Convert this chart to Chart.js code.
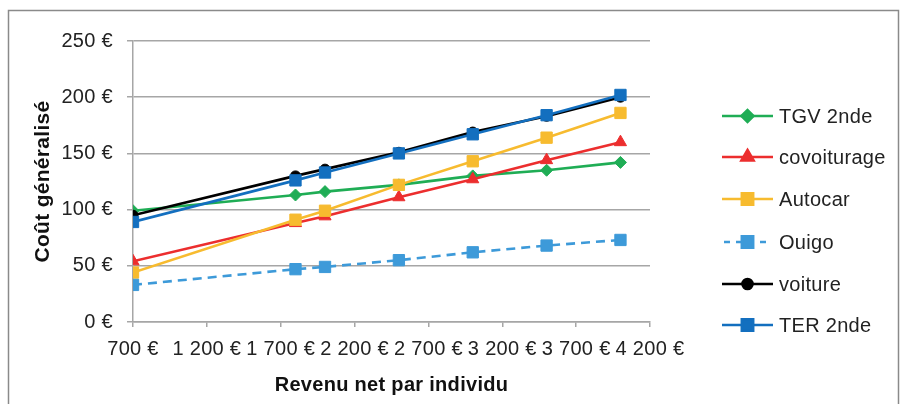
<!DOCTYPE html>
<html>
<head>
<meta charset="utf-8">
<script src="https://cdn.jsdelivr.net/npm/chart.js@4/dist/chart.umd.min.js"></script>
<style>
  body { margin: 0; background: #fff; }
  #wrap { width: 900px; height: 404px; position: relative; }
</style>
</head>
<body>
<div id="wrap"><canvas id="line-chart"></canvas></div>
<script>
// revenu net (x) and coût généralisé per mode (y)
const revenus = [700, 1800, 2000, 2500, 3000, 3500, 4000];
const tgv = [99, 113, 116, 122, 130, 135, 142];
const covoiturage = [54, 88, 94, 111, 127, 144, 160];
const autocar = [44, 91, 99, 122, 143, 164, 186];
const ouigo = [33, 47, 49, 55, 62, 68, 73];
const voiture = [95, 130, 136, 151, 169, 183, 200];
const ter = [89, 126, 133, 150, 167, 184, 202];
const seriesNames = ['TGV 2nde', 'covoiturage', 'Autocar', 'Ouigo', 'voiture', 'TER 2nde'];
const xTicks = [700, 1200, 1700, 2200, 2700, 3200, 3700, 4200];

const gridColor = '#a6a6a6';
const font = "'Liberation Sans', Arial, sans-serif";

function euro(v) {
  return String(v).replace(/\B(?=(\d{3})+(?!\d))/g, ' ') + ' €';
}

function toPoints(values) {
  return values.map(function(v, i) { return {x: revenus[i], y: v}; });
}

function makeDataset(name, values, color, style, radius, index, dash) {
  return {
    label: name,
    data: toPoints(values),
    borderColor: color,
    backgroundColor: color,
    pointBackgroundColor: color,
    pointBorderColor: color,
    pointStyle: style,
    pointRadius: radius,
    pointBorderWidth: 1,
    borderWidth: 2.6,
    borderDash: dash || [],
    tension: 0,
    order: 5 - index
  };
}

//legend drawn by hand: line + marker like the original
const sideLegend = {
  id: 'sideLegend',
  afterDraw(chart) {
    const ctx = chart.ctx;
    const x0 = 722, x1 = 773;
    const ys = [116, 157, 199, 242, 284, 325];
    chart.data.datasets.forEach(function(ds, i) {
      const y = ys[i];
      ctx.save();
      ctx.strokeStyle = ds.borderColor;
      ctx.lineWidth = ds.borderWidth;
      if (ds.borderDash.length) {
        ctx.setLineDash([6, 6]);
        ctx.beginPath(); ctx.moveTo(x0 + 2, y); ctx.lineTo(x1 - 2, y); ctx.stroke();
      } else {
        ctx.beginPath(); ctx.moveTo(x0, y); ctx.lineTo(x1, y); ctx.stroke();
      }
      ctx.setLineDash([]);
      ctx.fillStyle = ds.pointBackgroundColor;
      ctx.strokeStyle = ds.pointBorderColor;
      Chart.helpers.drawPoint(ctx, {pointStyle: ds.pointStyle, radius: ds.pointRadius, borderWidth: 1}, (x0 + x1) / 2, y);
      ctx.fillStyle = '#222';
      ctx.font = '20px ' + font;
      ctx.textBaseline = 'middle';
      ctx.textAlign = 'left';
      ctx.fillText(ds.label, 779, y + 1);
      ctx.restore();
    });
  }
};

//grey frame + slightly wider text, as in the scanned figure
const frame = {
  id: 'frame',
  beforeDraw(chart) {
    const ctx = chart.ctx;
    ctx.letterSpacing = '0.3px';
    ctx.save();
    ctx.strokeStyle = '#8a8a8a';
    ctx.lineWidth = 1.5;
    ctx.strokeRect(8.5, 10.5, 890, 420);
    ctx.restore();
  }
};

new Chart(document.getElementById('line-chart'), {
  type: 'line',
  data: {
    datasets: [
      makeDataset(seriesNames[0], tgv, '#1fad55', 'rectRot', 6, 0),
      makeDataset(seriesNames[1], covoiturage, '#ec2e2e', 'triangle', 7, 1),
      makeDataset(seriesNames[2], autocar, '#f7bb2f', 'rect', 8, 2),
      makeDataset(seriesNames[3], ouigo, '#3d9ad9', 'rect', 8, 3, [9, 6]),
      makeDataset(seriesNames[4], voiture, '#000000', 'circle', 5, 4),
      makeDataset(seriesNames[5], ter, '#136fbf', 'rect', 8, 5)
    ]
  },
  options: {
    responsive: true,
    maintainAspectRatio: false,
    animation: false,
    layout: { padding: { left: 0, top: 41, right: 250, bottom: 0 } },
    plugins: {
      legend: { display: false },
      tooltip: { enabled: false }
    },
    scales: {
      x: {
        type: 'linear',
        min: 700,
        max: 4200,
        afterFit: function(scale) { scale.height = 82; },
        afterBuildTicks: function(scale) {
          scale.ticks = xTicks.map(function(v) { return {value: v}; });
        },
        ticks: {
          autoSkip: false,
          maxRotation: 0,
          padding: 10,
          color: '#222',
          font: { family: font, size: 20 },
          callback: function(v) { return euro(v); }
        },
        grid: { drawOnChartArea: false, color: gridColor, tickLength: 5, lineWidth: 1.5 },
        border: { color: gridColor, width: 1.5 },
        title: {
          display: true,
          text: 'Revenu net par individu',
          color: '#111',
          font: { family: font, size: 20, weight: 'bold' },
          padding: { top: 0, bottom: 7 }
        }
      },
      y: {
        min: 0,
        max: 250,
        afterFit: function(scale) { scale.width = 133; },
        ticks: {
          stepSize: 50,
          padding: 14,
          color: '#222',
          font: { family: font, size: 20 },
          callback: function(v) { return euro(v); }
        },
        grid: { color: gridColor, tickLength: 6, lineWidth: 1.5 },
        border: { color: gridColor, width: 1.5 },
        title: {
          display: true,
          text: 'Coût généralisé',
          color: '#111',
          font: { family: font, size: 21, weight: 'bold' },
          padding: { top: 31, bottom: 0 }
        }
      }
    }
  },
  plugins: [frame, sideLegend]
});
</script>
</body>
</html>
